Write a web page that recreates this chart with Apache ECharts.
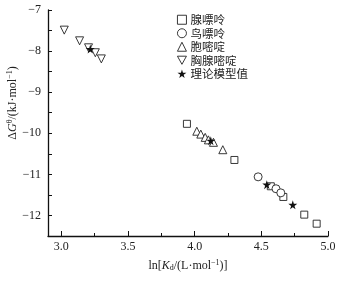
<!DOCTYPE html>
<html>
<head>
<meta charset="utf-8">
<script src="https://cdn.jsdelivr.net/npm/echarts@6/dist/echarts.min.js"></script>
<style>
  html, body { margin: 0; padding: 0; background: #fff; }
  #chart { width: 339px; height: 283px; }
</style>
</head>
<body>
<div id="chart"></div>
<script>
// data: [ln Kd, dG]
var xianPiaoLing = [[3.942, -9.77], [4.298, -10.65], [4.571, -11.29], [4.665, -11.55], [4.822, -11.98], [4.915, -12.20]];
var niaoPiaoLing = [[4.476, -11.06], [4.610, -11.35], [4.646, -11.45]];
var baoMiDing = [[4.016, -9.95], [4.046, -10.02], [4.079, -10.10], [4.103, -10.16], [4.141, -10.22], [4.211, -10.40]];
var xiongXianMiDing = [[3.022, -7.49], [3.137, -7.75], [3.204, -7.92], [3.255, -8.04], [3.300, -8.19]];
var liLunZhi = [[3.217, -7.95], [4.121, -10.18], [4.541, -11.25], [4.736, -11.74]];

var seriesNames = ['腺嘌呤', '鸟嘌呤', '胞嘧啶', '胸腺嘧啶', '理论模型值'];
var xTicks = [3.0, 3.5, 4.0, 4.5, 5.0];
var xMinorTicks = [3.25, 3.75, 4.25, 4.75];
var yTicks = [-12.5, -12, -11.5, -11, -10.5, -10, -9.5, -9, -8.5, -8, -7.5, -7];
var yLabels = [-12, -11, -10, -9, -8, -7];

var serif = 'Liberation Serif, Times New Roman, serif';
var cjk = 'Noto Sans CJK SC, sans-serif';

var chart = echarts.init(document.getElementById('chart'));

function hollow(name, symbol, size, data) {
  return {
    name: name,
    type: 'scatter',
    symbol: symbol,
    symbolSize: size,
    data: data,
    itemStyle: { color: '#fff', borderColor: '#222', borderWidth: 0.9, opacity: 1 }
  };
}

var option = {
  animation: false,
  grid: { left: 48, right: 11, top: 10, bottom: 47, outerBoundsMode: 'none', containLabel: false },
  legend: {
    orient: 'vertical',
    left: 172,
    top: 9,
    itemGap: 2,
    itemWidth: 9,
    itemHeight: 9,
    itemStyle: { borderWidth: 0.9 },
    textStyle: { fontFamily: cjk, fontSize: 11.5, color: '#222', padding: [0, 0, 0, -1] },
    data: seriesNames
  },
  xAxis: [{
    type: 'value',
    min: 2.9,
    max: 5.0,
    axisLine: { lineStyle: { color: '#111', width: 1.3 } },
    axisTick: { inside: true, length: 5, customValues: xTicks, lineStyle: { color: '#111' } },
    axisLabel: {
      customValues: xTicks,
      margin: 5,
      fontFamily: serif, fontSize: 12, color: '#222',
      formatter: function (v) { return v.toFixed(1); }
    },
    splitLine: { show: false },
    name: '{n|ln[}{i|K}{s|d}{n|/(L·mol}{p|−1}{n|)]}',
    nameLocation: 'middle',
    nameGap: 23,
    nameMoveOverlap: false,
    nameTextStyle: {
      rich: {
        n: { fontFamily: serif, fontSize: 12, color: '#222' },
        i: { fontFamily: serif, fontSize: 12, fontStyle: 'italic', color: '#222' },
        s: { fontFamily: serif, fontSize: 8, color: '#222', verticalAlign: 'bottom', padding: [5, 0, 0, 0] },
        p: { fontFamily: serif, fontSize: 8, color: '#222', verticalAlign: 'top', padding: [0, 0, 5, 0] }
      }
    }
  }, {
    type: 'value',
    min: 2.9,
    max: 5.0,
    position: 'bottom',
    axisLine: { show: false },
    axisTick: { inside: true, length: 3, customValues: xMinorTicks, lineStyle: { color: '#111' } },
    axisLabel: { show: false },
    splitLine: { show: false }
  }],
  yAxis: {
    type: 'value',
    min: -12.5,
    max: -7,
    axisLine: { show: true, lineStyle: { color: '#111', width: 1.3 } },
    axisTick: { show: true, inside: true, length: 4, customValues: yTicks, lineStyle: { color: '#111' } },
    axisLabel: {
      customValues: yLabels,
      margin: 7,
      fontFamily: serif, fontSize: 12, color: '#222',
      formatter: function (v) { return '−' + Math.abs(v); }
    },
    splitLine: { show: false },
    name: '{n|Δ}{i|G}{p|θ}{n|/(kJ·mol}{p|−1}{n|)}',
    nameLocation: 'middle',
    nameGap: 29,
    nameRotate: 90,
    nameMoveOverlap: false,
    nameTextStyle: {
      padding: [0, 0, 0, 40],
      rich: {
        n: { fontFamily: serif, fontSize: 12, color: '#222' },
        i: { fontFamily: serif, fontSize: 12, fontStyle: 'italic', color: '#222' },
        p: { fontFamily: serif, fontSize: 8, color: '#222', verticalAlign: 'top', padding: [0, 0, 5, 0] }
      }
    }
  },
  series: [
    hollow(seriesNames[0], 'rect', 7, xianPiaoLing),
    hollow(seriesNames[1], 'circle', 8, niaoPiaoLing),
    hollow(seriesNames[2], 'triangle', 8, baoMiDing),
    hollow(seriesNames[3], 'path://M0,0 L10,0 L5,9 Z', 8, xiongXianMiDing),
    {
      name: seriesNames[4],
      type: 'scatter',
      symbol: 'path://M50,0 L61,35 L98,35 L68,57 L79,91 L50,70 L21,91 L32,57 L2,35 L39,35 Z',
      symbolSize: 9,
      data: liLunZhi,
      itemStyle: { color: '#111', opacity: 1 },
      z: 3
    }
  ]
};

chart.setOption(option);
</script>
</body>
</html>
